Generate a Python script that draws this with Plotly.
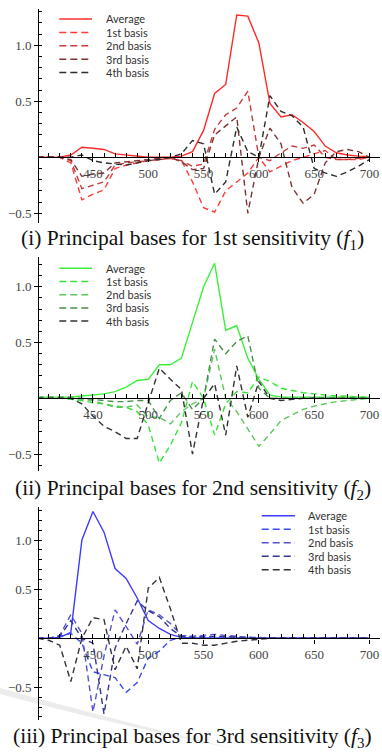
import plotly.graph_objects as go

# ---------------- data ----------------
wavelengths = list(range(400, 701, 10))
series_names = ["Average", "1st basis", "2nd basis", "3rd basis", "4th basis"]
x_tick_values = [450, 500, 550, 600, 650, 700]
x_tick_labels = ["450", "500", "550", "600", "650", "700"]
y_tick_values = [-0.5, 0.5, 1.0]
y_tick_labels = ["\u22120.5", "0.5", "1.0"]

# panel (i): 1st sensitivity
avg_f1 = [0.0, 0.0, 0.0, 0.02, 0.09, 0.08, 0.07, 0.03, 0.02, 0.01, 0.0, 0.0, 0.0, 0.01, 0.05, 0.24,
          0.57, 0.65, 1.27, 1.26, 1.02, 0.48, 0.36, 0.38, 0.31, 0.23, 0.10, 0.04, 0.02, 0.01, 0.005]
b1_f1 = [0.0, 0.0, 0.0, -0.05, -0.38, -0.33, -0.29, -0.10, -0.07, -0.05, -0.03, -0.02, -0.01, -0.03, -0.22, -0.45,
         -0.49, -0.30, -0.22, -0.14, 0.0, -0.13, -0.08, -0.03, 0.0, 0.03, 0.06, -0.02, -0.02, -0.02, 0.0]
b2_f1 = [0.0, 0.0, 0.0, -0.03, -0.28, -0.25, -0.22, -0.07, -0.05, -0.04, -0.03, -0.02, -0.01, -0.03, -0.08, -0.06,
         0.25, 0.38, 0.44, 0.59, 0.0, -0.03, 0.04, 0.10, 0.08, 0.11, 0.0, -0.02, -0.02, -0.01, 0.0]
b3_f1 = [0.0, 0.0, 0.0, -0.02, -0.17, -0.15, -0.14, -0.05, -0.04, -0.03, -0.02, -0.01, 0.0, -0.04, -0.11, -0.10,
         0.20, 0.28, 0.36, -0.50, 0.0, 0.26, 0.12, -0.27, -0.41, -0.33, -0.05, 0.05, 0.07, 0.05, 0.0]
b4_f1 = [0.0, 0.0, 0.0, 0.0, 0.02, -0.03, -0.05, -0.06, -0.07, -0.05, -0.03, -0.02, 0.0, 0.03, 0.15, 0.12,
         -0.33, -0.22, 0.27, 0.05, 0.0, 0.55, 0.41, 0.37, 0.27, -0.10, -0.14, -0.17, -0.13, -0.08, -0.02]

# panel (ii): 2nd sensitivity
avg_f2 = [0.01, 0.01, 0.01, 0.01, 0.02, 0.03, 0.04, 0.06, 0.10, 0.16, 0.17, 0.30, 0.30, 0.36, 0.67, 1.00,
          1.21, 0.61, 0.65, 0.36, 0.17, 0.03, 0.01, 0.01, 0.01, 0.01, 0.01, 0.01, 0.01, 0.01, 0.01]
b1_f2 = [0.0, 0.0, 0.0, -0.01, -0.02, -0.04, -0.05, -0.07, -0.08, -0.12, -0.24, -0.58, -0.42, -0.22, 0.15, 0.0,
         -0.33, -0.05, 0.06, 0.05, 0.19, 0.15, 0.09, 0.07, 0.05, 0.04, 0.03, 0.02, 0.02, 0.01, 0.01]
b2_f2 = [0.0, 0.0, 0.0, 0.0, -0.01, -0.02, -0.05, -0.08, -0.08, -0.06, -0.17, -0.17, -0.23, -0.12, -0.05, 0.0,
         0.44, 0.0, -0.12, -0.27, -0.43, -0.32, -0.20, -0.15, -0.10, -0.07, -0.05, -0.03, -0.02, -0.01, 0.0]
b3_f2 = [0.01, 0.01, 0.01, 0.01, 0.0, -0.01, -0.02, -0.03, -0.03, -0.02, -0.02, -0.18, -0.02, 0.05, -0.10, 0.0,
         0.53, 0.40, 0.51, 0.56, 0.09, 0.0, 0.0, 0.0, 0.0, 0.0, 0.0, 0.0, 0.0, 0.0, 0.0]
b4_f2 = [0.0, 0.0, 0.0, 0.0, -0.05, -0.16, -0.25, -0.30, -0.36, -0.36, -0.04, 0.27, 0.17, 0.08, -0.50, 0.0,
         0.13, -0.33, 0.29, -0.17, 0.15, 0.0, -0.02, -0.01, 0.0, 0.0, 0.0, 0.0, 0.0, 0.0, 0.0]

# panel (iii): 3rd sensitivity
avg_f3 = [0.0, 0.0, 0.01, 0.06, 1.00, 1.29, 1.08, 0.71, 0.61, 0.41, 0.18, 0.10, 0.04, 0.01, 0.005, 0.003,
          0.003, 0.003, 0.003, 0.003, 0.003, 0.003, 0.003, 0.003, 0.003, 0.003, 0.003, 0.003, 0.003, 0.003, 0.003]
b1_f3 = [0.0, 0.0, 0.02, 0.05, -0.05, -0.34, -0.37, -0.40, -0.55, -0.45, -0.20, -0.13, -0.02, 0.01, 0.02, 0.02,
         0.02, 0.01, 0.01, 0.01, 0.0, 0.0, 0.0, 0.0, 0.0, 0.0, 0.0, 0.0, 0.0, 0.0, 0.0]
b2_f3 = [0.0, 0.0, 0.03, 0.24, 0.05, -0.75, -0.18, 0.29, 0.12, -0.06, 0.29, 0.24, 0.15, 0.03, 0.02, 0.03,
         0.04, 0.03, 0.02, 0.01, 0.01, 0.0, 0.0, 0.0, 0.0, 0.0, 0.0, 0.0, 0.0, 0.0, 0.0]
b3_f3 = [0.0, 0.0, 0.02, 0.18, 0.0, -0.05, -0.77, -0.10, 0.15, 0.38, 0.28, 0.22, 0.10, 0.02, 0.01, 0.01,
         0.02, 0.02, 0.01, 0.01, 0.0, 0.0, 0.0, 0.0, 0.0, 0.0, 0.0, 0.0, 0.0, 0.0, 0.0]
b4_f3 = [0.0, -0.02, -0.07, -0.44, 0.0, 0.21, 0.19, -0.32, -0.08, -0.31, 0.51, 0.62, 0.30, -0.05, -0.05, -0.07,
         -0.07, -0.05, -0.03, -0.02, -0.01, 0.0, 0.0, 0.0, 0.0, 0.0, 0.0, 0.0, 0.0, 0.0, 0.0]

captions = [
    "(i) Principal bases for 1st sensitivity (<i>f</i><sub>1</sub>)",
    "(ii) Principal bases for 2nd sensitivity (<i>f</i><sub>2</sub>)",
    "(iii) Principal bases for 3rd sensitivity (<i>f</i><sub>3</sub>)",
]

# ---------------- styling / layout ----------------
W, H = 382, 753
colors = [
    ["#ff2b2b", "#ff3d3d", "#c83c3c", "#7e3434", "#2e2e2e"],
    ["#3cf03c", "#36e436", "#5cc85c", "#4a8f4a", "#333333"],
    ["#3c3cff", "#3a4cf5", "#5252d2", "#343492", "#33333f"],
]
panel_series = [
    [avg_f1, b1_f1, b2_f1, b3_f1, b4_f1],
    [avg_f2, b1_f2, b2_f2, b3_f2, b4_f2],
    [avg_f3, b1_f3, b2_f3, b3_f3, b4_f3],
]
# plot-area pixel geometry: (top, bottom), y range
y_px = [(9.3, 222.7), (256.7, 470.7), (506.7, 720.0)]
y_ranges = [(-0.584, 1.321), (-0.649, 1.269), (-0.831, 1.339)]
x_px = (39.3, 380.0)
x_range = (401.5, 709.5)
caption_y = [240, 489, 737]
legend_pos = [  # line x0, line x1, text x, first row y, row step
    (59.3, 92.0, 104.0, 19.0, 13.4),
    (59.3, 92.0, 104.0, 268.3, 13.2),
    (261.7, 295.0, 306.0, 515.7, 13.5),
]

tick_font = dict(family="Liberation Serif, Times New Roman, serif", size=13, color="#444444")
DASH = "6px,4px"

fig = go.Figure()
layout_axes = {}
shapes = []
annotations = []

for p in range(3):
    sfx = "" if p == 0 else str(p + 1)
    xa, ya = "x" + sfx, "y" + sfx
    for k, (name, vals) in enumerate(zip(series_names, panel_series[p])):
        fig.add_trace(go.Scatter(
            x=wavelengths, y=vals, mode="lines", name=name, showlegend=False,
            xaxis=xa, yaxis=ya,
            line=dict(color=colors[p][k], width=1.4, dash="solid" if k == 0 else DASH),
        ))
    top, bot = y_px[p]
    d0, d1 = 1 - bot / H, 1 - top / H
    r0, r1 = y_ranges[p]
    zero_pos = d0 + (0 - r0) / (r1 - r0) * (d1 - d0)
    layout_axes["xaxis" + sfx] = dict(
        domain=[x_px[0] / W, x_px[1] / W], range=list(x_range), anchor="free", position=zero_pos,
        showline=True, linecolor="black", linewidth=1.4, showgrid=False, zeroline=False,
        tickmode="array", tickvals=x_tick_values, ticktext=x_tick_labels,
        ticks="outside", ticklen=4, tickcolor="black", tickwidth=1, tickfont=tick_font,
        ticklabeloverflow="allow",
        minor=dict(tickmode="linear", tick0=400, dtick=10, ticks="inside", ticklen=4,
                   tickcolor="black", tickwidth=1, showgrid=False),
        fixedrange=True,
    )
    layout_axes["yaxis" + sfx] = dict(
        domain=[d0, d1], range=[r0, r1], anchor=xa,
        showline=True, linecolor="black", linewidth=1.3, showgrid=False, zeroline=False,
        tickmode="array", tickvals=y_tick_values, ticktext=y_tick_labels,
        ticks="outside", ticklen=4, tickcolor="black", tickwidth=1, tickfont=tick_font,
        ticklabeloverflow="allow",
        minor=dict(tickmode="linear", tick0=0, dtick=0.1, ticks="inside", ticklen=3,
                   tickcolor="black", tickwidth=1, showgrid=False),
        fixedrange=True,
    )
    # manual legend
    lx0, lx1, tx, ry, step = legend_pos[p]
    for k, name in enumerate(series_names):
        yy = 1 - (ry + k * step) / H
        shapes.append(dict(type="line", xref="paper", yref="paper", x0=lx0 / W, x1=lx1 / W, y0=yy, y1=yy,
                           line=dict(color=colors[p][k], width=1.5, dash="solid" if k == 0 else "7px,4px")))
        annotations.append(dict(xref="paper", yref="paper", x=tx / W, y=yy, xanchor="left", yanchor="middle",
                                text=name, showarrow=False,
                                font=dict(family="Lato, Open Sans, sans-serif", size=11, color="#333333")))
    annotations.append(dict(xref="paper", yref="paper", x=192.5 / W, y=1 - caption_y[p] / H,
                            xanchor="center", yanchor="middle", text=captions[p], showarrow=False,
                            font=dict(family="Liberation Serif, Times New Roman, serif", size=21.5, color="#111111")))

# faint watermark swoosh seen in the reference
shapes.append(dict(type="path", xref="paper", yref="paper", layer="below",
                   path="M 0,{a} Q {b},{c} {d},{e} Q {b},{f} 0,{g} Z".format(
                       a=1 - 688 / H, b=100 / W, c=1 - 716 / H, d=235 / W, e=1 - 749 / H,
                       f=1 - 721 / H, g=1 - 694 / H),
                   fillcolor="#ececec", line=dict(width=0)))

fig.update_layout(
    width=W, height=H, margin=dict(l=0, r=0, t=0, b=0),
    paper_bgcolor="white", plot_bgcolor="rgba(0,0,0,0)",
    showlegend=False, shapes=shapes, annotations=annotations, **layout_axes,
)
fig.write_html("out.html", config={"displayModeBar": False},
               post_script="document.body.style.margin='0';document.body.style.overflow='hidden';")
